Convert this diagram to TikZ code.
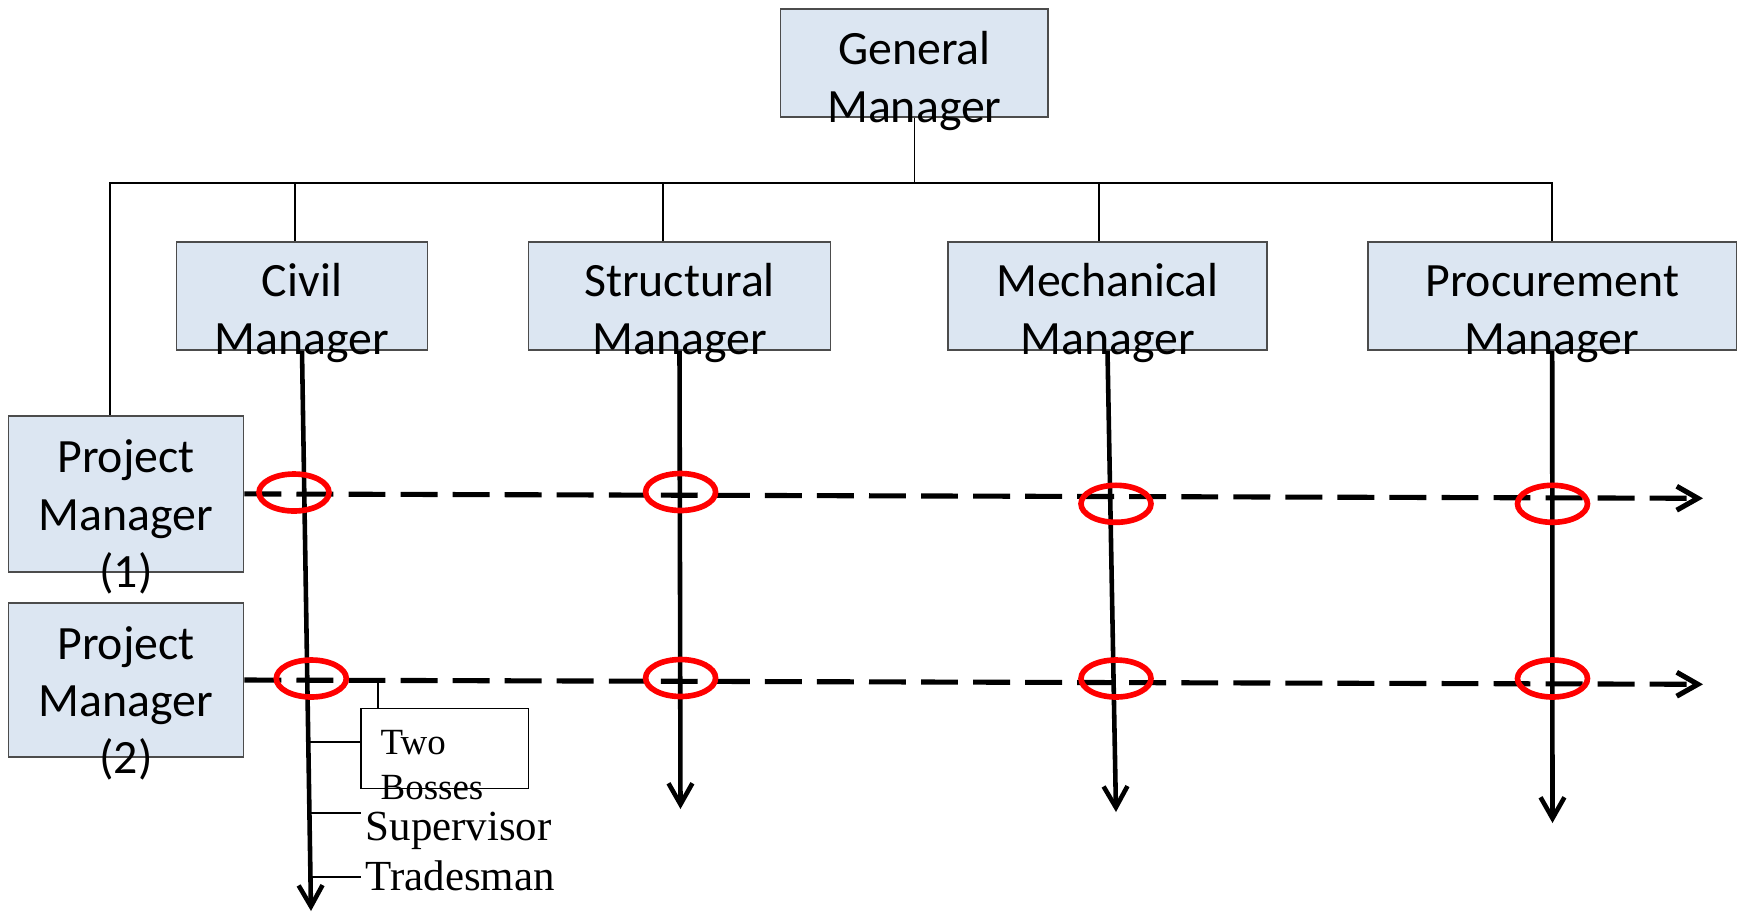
\documentclass[tikz,border=0pt]{standalone}
\usepackage{fontspec}
\setmainfont{Carlito}
\newfontfamily\serifface{Liberation Serif}
\usetikzlibrary{arrows.meta}
\definecolor{boxfill}{HTML}{DCE6F2}
\definecolor{ringred}{HTML}{FF0000}
\tikzset{
  mgrbox/.style={draw=black!70, line width=0.5pt, fill=boxfill, inner sep=0pt},
  mgrtext/.style={align=center, inner sep=0pt, anchor=base, font=\fontsize{13.6}{16.3}\selectfont},
  orgline/.style={line width=0.45pt},
  flow/.style={line width=1.3pt, -{Straight Barb[length=6pt,width=6.8pt]}},
  matrixline/.style={line width=1.45pt, dash pattern=on 10.5pt off 4.3pt, -{Straight Barb[length=6pt,width=6.8pt]}},
  ring/.style={draw=ringred, line width=1.6pt},
  rolebox/.style={draw, line width=0.5pt, inner sep=0pt},
  roletext/.style={font=\serifface\fontsize{12.2}{15}\selectfont, inner xsep=0.04cm, inner ysep=0pt, anchor=base west},
}
\begin{document}
\begin{tikzpicture}[x=0.01cm, y=-0.01cm]
\useasboundingbox[fill=white] (0,0) rectangle (1741,914);
% manager boxes
\node[mgrbox, minimum width=2.675cm, minimum height=1.077cm] (gm) at (914.4,62.8) {};
\node[mgrbox, minimum width=2.51cm, minimum height=1.077cm] (civil) at (302,295.9) {};
\node[mgrbox, minimum width=3.02cm, minimum height=1.077cm] (struct) at (679.5,295.9) {};
\node[mgrbox, minimum width=3.187cm, minimum height=1.077cm] (mech) at (1107.5,295.9) {};
\node[mgrbox, minimum width=3.686cm, minimum height=1.077cm] (proc) at (1552.2,295.9) {};
\node[mgrbox, minimum width=2.35cm, minimum height=1.555cm] (pm1) at (126,493.9) {};
\node[mgrbox, minimum width=2.35cm, minimum height=1.545cm] (pm2) at (126,680) {};
% their texts, running over the boxes
\node[mgrtext] (gmtext) at ([yshift=-1.14cm]gm.north) {General\\Manager};
\node[mgrtext] (civiltext) at ([yshift=-1.13cm]civil.north) {Civil\\Manager};
\node[mgrtext] (structtext) at ([yshift=-1.13cm]struct.north) {Structural\\Manager};
\node[mgrtext] (mechtext) at ([yshift=-1.13cm]mech.north) {Mechanical\\Manager};
\node[mgrtext] (proctext) at ([yshift=-1.13cm]proc.north) {Procurement\\Manager};
\node[mgrtext] (pm1text) at ([yshift=-1.72cm]pm1.north) {Project\\Manager\\(1)};
\node[mgrtext] (pm2text) at ([yshift=-1.72cm]pm2.north) {Project\\Manager\\(2)};

% tree lines
\coordinate (busL) at (110,183);
\coordinate (busR) at (1552.2,183);
\draw[orgline] (gm.south) -- (gm.south |- busL);
\draw[orgline] (pm1.north -| busL) -- (busL) -- (busR) -- (proc.north -| busR);
\foreach \b/\x in {civil/295, struct/663, mech/1099}
  \draw[orgline] (\x,183) -- (\b.north -| \x,0);

% functional lines
\coordinate (civend) at (311,911);
\coordinate (structend) at (680.5,809);
\coordinate (mechend) at (1116,812);
\coordinate (procend) at (1552.5,823);
\draw[flow] (civil.south) -- (civend);
\draw[flow] (struct.south) -- (structend);
\draw[flow] (mech.south) -- (mechend);
\draw[flow] (proc.south) -- (procend);

% project lines
\coordinate (row1end) at (1703,498.3);
\coordinate (row2end) at (1703,684.3);
\draw[matrixline] (pm1.east) -- (row1end);
\draw[matrixline] (pm2.east) -- (row2end);

% crossings
\foreach \x/\y in {294/492.5, 680.6/492, 1116/503.8, 1552.5/503.8,
                   311.3/678.5, 680.6/678, 1116/678.5, 1552.5/678.5}
  \draw[ring] (\x,\y) ellipse [x radius=35, y radius=18.5];

% below the civil manager
\node[rolebox, minimum width=1.677cm, minimum height=0.799cm] (boss) at (444.6,748.4) {};
\node[roletext, font=\serifface\fontsize{10.5}{12.6}\selectfont, align=left] (bosstext) at (376,799) {Two\\Bosses};
\node[roletext] (sup) at (361,840.7) {Supervisor};
\node[roletext] (trade) at (361,890) {Tradesman};
\coordinate (tap) at (378,681.5);
\coordinate (bosstick) at (308.3,742);
\coordinate (suptick) at (309.4,813);
\coordinate (tradetick) at (310.5,877);
\draw[orgline] (tap) -- (tap |- boss.north);
\draw[orgline] (bosstick) -- (bosstick -| boss.west);
\draw[orgline] (suptick) -- (suptick -| sup.west);
\draw[orgline] (tradetick) -- (tradetick -| trade.west);
\end{tikzpicture}
\end{document}
